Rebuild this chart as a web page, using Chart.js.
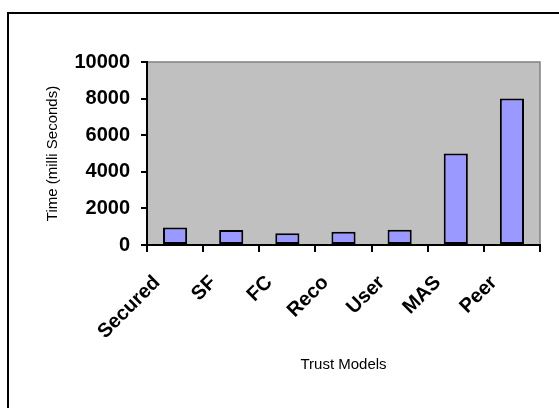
<!DOCTYPE html>
<html>
<head>
<meta charset="utf-8">
<script src="https://cdn.jsdelivr.net/npm/chart.js@4/dist/chart.umd.min.js"></script>
<style>
html,body{margin:0;padding:0;background:#fff;}
#wrap{position:relative;width:559px;height:408px;overflow:hidden;}
#frame{position:absolute;left:7px;top:12px;width:600px;height:500px;border-top:2px solid #000;border-left:2px solid #000;}
canvas{position:absolute;left:0;top:0;}
</style>
</head>
<body>
<div id="wrap">
<div id="frame"></div>
<canvas id="c" width="559" height="408"></canvas>
</div>
<script>
const categories = ["Secured","SF","FC","Reco","User","MAS","Peer"];
const timeValues = [950, 820, 640, 730, 840, 5000, 8000];
const yTicks = [0, 2000, 4000, 6000, 8000, 10000];
const xTitle = "Trust Models";
const yTitle = "Time (milli Seconds)";

const plotBg = {
  id: 'plotBg',
  beforeDraw(chart) {
    const {ctx, chartArea: a} = chart;
    ctx.save();
    ctx.fillStyle = '#c0c0c0';
    ctx.fillRect(a.left, a.top, a.right - a.left, a.bottom - a.top);
    ctx.strokeStyle = '#808080';
    ctx.lineWidth = 1.5;
    ctx.beginPath();
    ctx.moveTo(a.left, a.top);
    ctx.lineTo(a.right, a.top);
    ctx.lineTo(a.right, a.bottom);
    ctx.stroke();
    ctx.restore();
  }
};

new Chart(document.getElementById('c'), {
  type: 'bar',
  data: {
    labels: categories,
    datasets: [{
      data: timeValues,
      backgroundColor: '#9999ff',
      borderColor: '#000',
      borderWidth: 2,
      borderSkipped: false,
      categoryPercentage: 1,
      barPercentage: 0.43
    }]
  },
  options: {
    responsive: false,
    animation: false,
    layout: {padding: {left: 44, right: 19, top: 62, bottom: 34}},
    plugins: {legend: {display: false}, tooltip: {enabled: false}},
    scales: {
      x: {
        grid: {drawOnChartArea: false, tickLength: 7, color: '#000', lineWidth: 2, offset: true},
        border: {color: '#000', width: 2},
        ticks: {
          color: '#000', font: {family: 'Arial, "Liberation Sans"', size: 20, weight: 'bold'},
          minRotation: 45, maxRotation: 45, padding: 19, labelOffset: -18, autoSkip: false
        },
        title: {display: true, text: xTitle, color: '#000', font: {family: 'Arial, "Liberation Sans"', size: 15}, padding: 0},
        afterFit(axis) { axis.height = 129; }
      },
      y: {
        min: 0, max: 10000,
        afterBuildTicks(axis) { axis.ticks = yTicks.map(v => ({value: v})); },
        grid: {drawOnChartArea: false, tickLength: 6, color: '#000', lineWidth: 2},
        border: {color: '#000', width: 2},
        ticks: {color: '#000', font: {family: 'Arial, "Liberation Sans"', size: 20, weight: 'bold'}, padding: 11,
          callback: v => String(v)},
        title: {display: true, text: yTitle, color: '#000', font: {family: 'Arial, "Liberation Sans"', size: 15}, padding: 0},
        afterFit(axis) { axis.width = 103; }
      }
    }
  },
  plugins: [plotBg]
});
</script>
</body>
</html>
